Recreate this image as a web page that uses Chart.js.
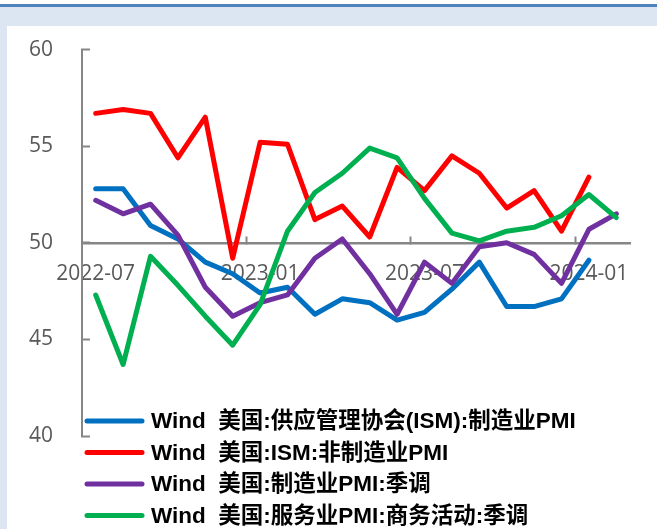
<!DOCTYPE html>
<html>
<head>
<meta charset="utf-8">
<script src="https://cdn.jsdelivr.net/npm/chart.js@4.4.1/dist/chart.umd.min.js"></script>
<style>
  html, body { margin: 0; padding: 0; }
  body { width: 657px; height: 529px; position: relative; overflow: hidden; background: #fff; }
  .bar { position: absolute; left: 0; right: 0; top: 4px; height: 3px; background: #4f81bd; }
  .frame { position: absolute; left: 0; right: 0; top: 7px; bottom: 0; background: #dce6f2; }
  .panel { position: absolute; left: 7px; right: 0; top: 26px; bottom: 0; background: #fff; }
  #pmi { position: absolute; left: 0; top: 0; }
</style>
</head>
<body>
<div class="bar"></div>
<div class="frame"></div>
<div class="panel"></div>
<canvas id="pmi" width="657" height="529"></canvas>
<script>
const months = [
  '2022-07', '2022-08', '2022-09', '2022-10', '2022-11', '2022-12',
  '2023-01', '2023-02', '2023-03', '2023-04', '2023-05', '2023-06',
  '2023-07', '2023-08', '2023-09', '2023-10', '2023-11', '2023-12',
  '2024-01', '2024-02'
];

const ismManufacturing = [52.8, 52.8, 50.9, 50.2, 49.0, 48.4, 47.4, 47.7, 46.3, 47.1, 46.9, 46.0, 46.4, 47.6, 49.0, 46.7, 46.7, 47.1, 49.1, null];
const ismNonManufacturing = [56.7, 56.9, 56.7, 54.4, 56.5, 49.2, 55.2, 55.1, 51.2, 51.9, 50.3, 53.9, 52.7, 54.5, 53.6, 51.8, 52.7, 50.6, 53.4, null];
const manufacturingSA = [52.2, 51.5, 52.0, 50.4, 47.7, 46.2, 46.9, 47.3, 49.2, 50.2, 48.4, 46.3, 49.0, 47.9, 49.8, 50.0, 49.4, 47.9, 50.7, 51.5];
const servicesSA = [47.3, 43.7, 49.3, 47.8, 46.2, 44.7, 46.8, 50.6, 52.6, 53.6, 54.9, 54.4, 52.3, 50.5, 50.1, 50.6, 50.8, 51.4, 52.5, 51.3];

const seriesNames = [
  'Wind  美国:供应管理协会(ISM):制造业PMI',
  'Wind  美国:ISM:非制造业PMI',
  'Wind  美国:制造业PMI:季调',
  'Wind  美国:服务业PMI:商务活动:季调'
];
const seriesColors = ['#0070c0', '#ff0000', '#7030a0', '#00b050'];

const axisGray = '#868686';
const tickFont = { family: "'Open Sans', 'Liberation Sans', sans-serif", size: 21 };

// legend sits inside the plot, under the lines
const bottomLegend = {
  id: 'bottomLegend',
  afterDraw(chart) {
    const { ctx, chartArea } = chart;
    ctx.save();
    ctx.font = "bold 22.5px 'Liberation Sans', 'Noto Sans CJK SC', sans-serif";
    ctx.textBaseline = 'middle';
    ctx.textAlign = 'left';
    chart.data.datasets.forEach((ds, i) => {
      const y = chartArea.bottom - 15 + i * 31.5;
      const x = chartArea.left + 4;
      ctx.strokeStyle = ds.borderColor;
      ctx.lineWidth = 5;
      ctx.lineCap = 'round';
      ctx.beginPath();
      ctx.moveTo(x + 1, y);
      ctx.lineTo(x + 56, y);
      ctx.stroke();
      ctx.fillStyle = '#000';
      ctx.fillText(ds.label, x + 65, y + 1);
    });
    ctx.restore();
  }
};

const seriesData = [ismManufacturing, ismNonManufacturing, manufacturingSA, servicesSA];

new Chart(document.getElementById('pmi'), {
  type: 'line',
  data: {
    labels: months,
    datasets: seriesData.map((values, i) => ({
      label: seriesNames[i],
      data: values,
      borderColor: seriesColors[i],
      backgroundColor: seriesColors[i],
      borderWidth: 5,
      borderJoinStyle: 'round',
      borderCapStyle: 'round',
      pointRadius: 0,
      tension: 0,
      order: seriesData.length - i
    }))
  },
  options: {
    responsive: false,
    devicePixelRatio: 1,
    animation: false,
    layout: { padding: { left: 0, top: 47, right: 27, bottom: 93 } },
    plugins: {
      legend: { display: false },
      tooltip: { enabled: false }
    },
    scales: {
      x: {
        type: 'category',
        position: { y: 50 },
        offset: true,
        afterFit: (scale) => { scale.height = 0; },
        grid: {
          offset: true,
          drawOnChartArea: false,
          tickLength: -8,
          tickWidth: 2,
          tickColor: (ctx) => (ctx.index > 0 && ctx.index % 6 === 0 && ctx.index < months.length) ? axisGray : 'rgba(0,0,0,0)'
        },
        border: { color: axisGray, width: 2.5 },
        ticks: {
          autoSkip: false,
          maxRotation: 0,
          padding: 27,
          color: '#595959',
          font: tickFont,
          callback: (value, i) => (i % 6 === 0 ? months[i] : '')
        }
      },
      y: {
        min: 40,
        max: 60,
        afterFit: (scale) => { scale.width = 82; },
        grid: {
          drawOnChartArea: false,
          tickLength: -8,
          tickWidth: 2,
          tickColor: axisGray
        },
        border: { color: axisGray, width: 2 },
        ticks: {
          stepSize: 5,
          padding: 37,
          color: '#595959',
          font: tickFont
        }
      }
    }
  },
  plugins: [bottomLegend]
});
</script>
</body>
</html>
